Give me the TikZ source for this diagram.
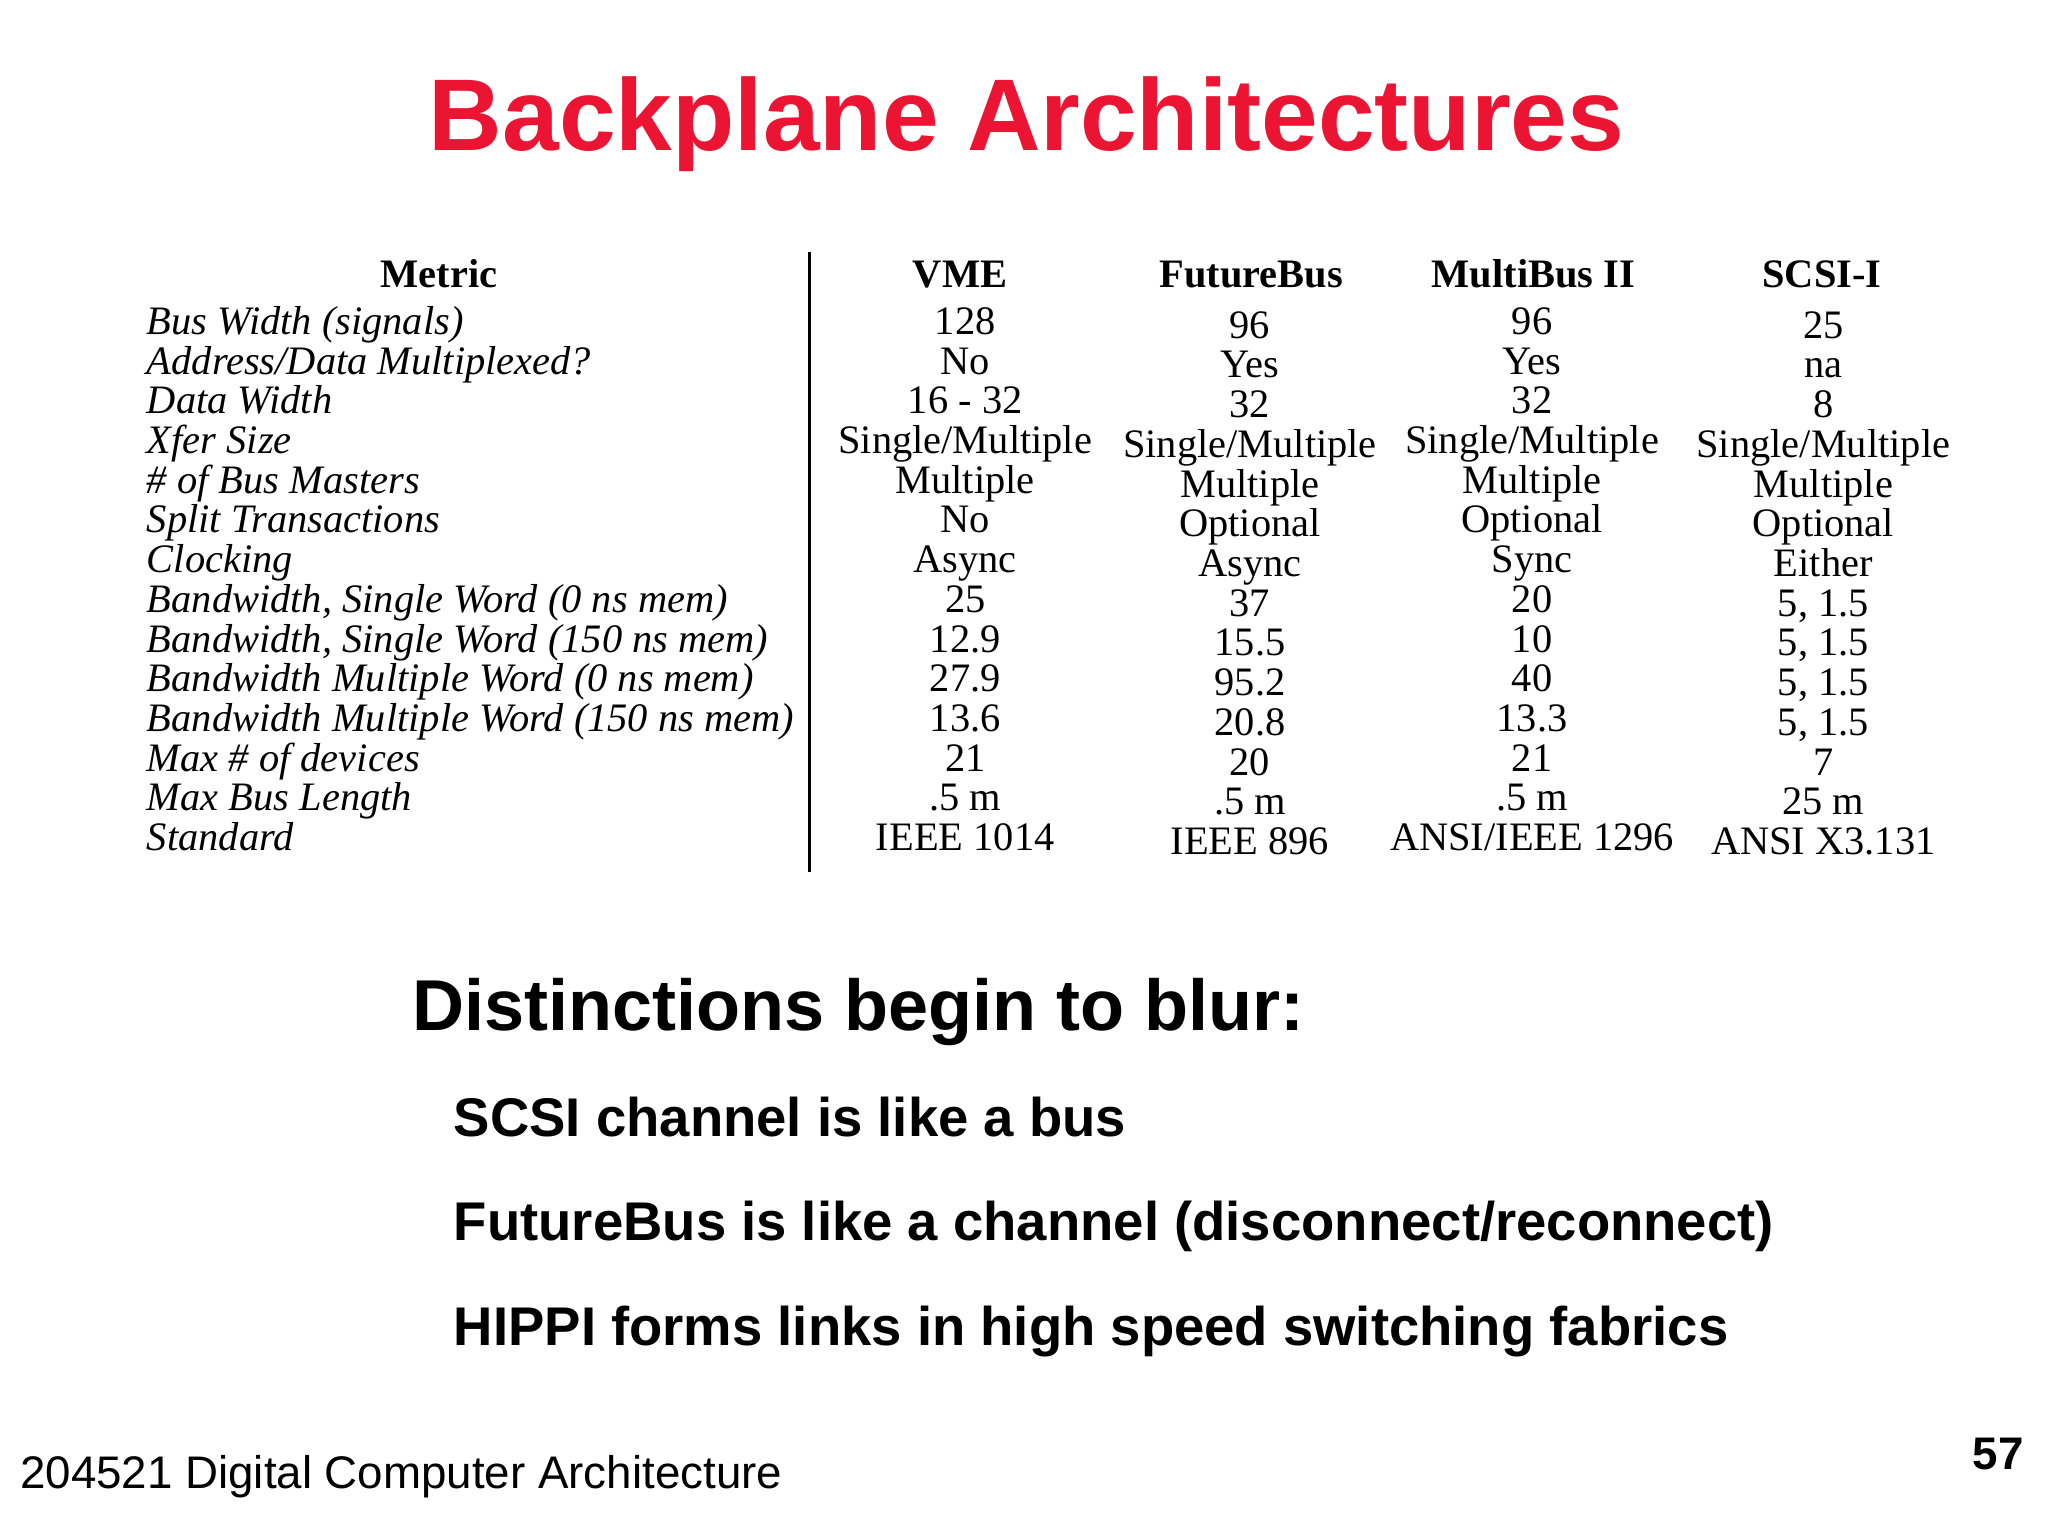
\documentclass[tikz,border=0pt]{standalone}
\usepackage{fontspec}
\setmainfont{Liberation Serif}
\newfontfamily\arialf{Liberation Sans}
\definecolor{titlered}{RGB}{235,20,50}
\begin{document}
\begin{tikzpicture}[x=0.013061cm,y=-0.013061cm,
  cell/.style={inner sep=0pt,anchor=base,font=\fontsize{11.5}{13}\selectfont},
  metric/.style={inner sep=0pt,anchor=base west,font=\fontsize{11.5}{13}\selectfont\itshape},
  head/.style={inner sep=0pt,anchor=base,font=\fontsize{11.5}{13}\selectfont\bfseries},
  bul/.style={inner sep=0pt,anchor=base west,font=\arialf\bfseries\fontsize{15.5}{18}\selectfont}]
\useasboundingbox (0,0) rectangle (1568,1176);
\node[inner sep=0pt,anchor=base,text=titlered,font=\arialf\bfseries\fontsize{29}{34}\selectfont] (title) at (786,115) {Backplane Architectures};
\node[head] (hm) at (336,220) {Metric};
\node[head] (h1) at (735,220) {VME};
\node[head] (h2) at (958,220) {FutureBus};
\node[head] (h3) at (1174,220) {MultiBus II};
\node[head] (h4) at (1395,220) {SCSI-I};
\coordinate (lt) at (620,193); \coordinate (lb) at (620,668);
\draw[line width=0.8pt] (lt) -- (lb);
\foreach \i/\m/\a/\b/\c/\d in {
 0/Bus Width (signals)/128/96/96/25,
 1/Address\slash Data Multiplexed?/No/Yes/Yes/na,
 2/Data Width/16 - 32/32/32/8,
 3/Xfer Size/Single\slash Multiple/Single\slash Multiple/Single\slash Multiple/Single\slash Multiple,
 4/\# of Bus Masters/Multiple/Multiple/Multiple/Multiple,
 5/Split Transactions/No/Optional/Optional/Optional,
 6/Clocking/Async/Async/Sync/Either,
 7/{Bandwidth, Single Word (0 ns mem)}/25/37/20/{5, 1.5},
 8/{Bandwidth, Single Word (150 ns mem)}/12.9/15.5/10/{5, 1.5},
 9/Bandwidth Multiple Word (0 ns mem)/27.9/95.2/40/{5, 1.5},
 10/Bandwidth Multiple Word (150 ns mem)/13.6/20.8/13.3/{5, 1.5},
 11/Max \# of devices/21/20/21/7,
 12/Max Bus Length/.5 m/.5 m/.5 m/25 m,
 13/Standard/IEEE 1014/IEEE 896/ANSI\slash IEEE 1296/ANSI X3.131}{
 \node[metric] (m\i) at (112,{256+30.4*\i}) {\m};
 \node[cell] (a\i) at (739,{256+30.4*\i}) {\a};
 \node[cell] (b\i) at (957,{259+30.4*\i}) {\b};
 \node[cell] (c\i) at (1173,{256+30.4*\i}) {\c};
 \node[cell] (d\i) at (1396,{259+30.4*\i}) {\d};
}
\node[inner sep=0pt,anchor=base west,font=\arialf\bfseries\fontsize{20.5}{24}\selectfont] (dist) at (315,789) {Distinctions begin to blur:};
\node[bul] (s1) at (347,870) {SCSI channel is like a bus};
\node[bul] (s2) at (347,950) {FutureBus is like a channel (disconnect/reconnect)};
\node[bul] (s3) at (347,1030) {HIPPI forms links in high speed switching fabrics};
\node[inner sep=0pt,anchor=base west,font=\arialf\fontsize{13}{15}\selectfont] (foot) at (15,1140) {204521 Digital Computer Architecture};
\node[inner sep=0pt,anchor=base east,font=\arialf\bfseries\fontsize{13}{15}\selectfont] (pg) at (1550,1125) {57};
\end{tikzpicture}
\end{document}
